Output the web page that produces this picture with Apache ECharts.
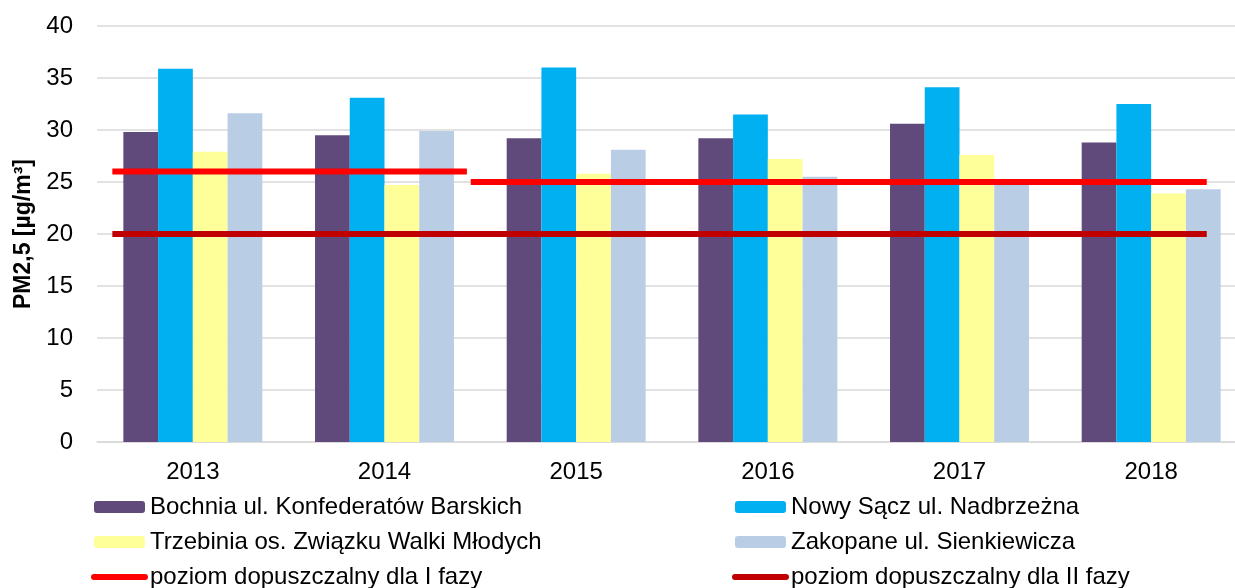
<!DOCTYPE html>
<html>
<head>
<meta charset="utf-8">
<script src="https://cdn.jsdelivr.net/npm/echarts@6/dist/echarts.min.js"></script>
<style>
  html, body { margin: 0; padding: 0; background: #fff; overflow: hidden; }
  #chart { width: 1235px; height: 588px; }
</style>
</head>
<body>
<div id="chart"></div>
<script>
// lata pomiarowe
var years = ['2013', '2014', '2015', '2016', '2017', '2018'];

// stezenia PM2,5 [ug/m3]
var bochnia = [29.8, 29.5, 29.2, 29.2, 30.6, 28.8];
var nowySacz = [35.9, 33.1, 36.0, 31.5, 34.1, 32.5];
var trzebinia = [27.9, 24.7, 25.8, 27.2, 27.6, 23.9];
var zakopane = [31.6, 29.9, 28.1, 25.5, 24.8, 24.3];

// poziomy dopuszczalne: [od, do (w jednostkach kategorii), wartosc]
var limitI = [[0.08, 1.93, 26], [1.95, 5.79, 25]];
var limitII = [[0.08, 5.79, 20]];

var yTicks = [0, 5, 10, 15, 20, 25, 30, 35, 40];

var names = {
  boch: 'Bochnia ul. Konfederatów Barskich',
  nowy: 'Nowy Sącz ul. Nadbrzeżna',
  trze: 'Trzebinia os. Związku Walki Młodych',
  zako: 'Zakopane ul. Sienkiewicza',
  l1: 'poziom dopuszczalny dla I fazy',
  l2: 'poziom dopuszczalny dla II fazy'
};

var font = 'Liberation Sans, Arial, sans-serif';

function bar(name, data, color) {
  return {
    name: name,
    type: 'bar',
    data: data,
    barGap: '0%',
    barCategoryGap: '27.5%',
    itemStyle: { color: color },
    emphasis: { disabled: true }
  };
}

function seg(name, s, color) {
  return {
    name: name,
    type: 'line',
    xAxisIndex: 1,
    data: [[s[0], s[2]], [s[1], s[2]]],
    symbol: 'none',
    lineStyle: { color: color, width: 6 },
    itemStyle: { color: color },
    z: 5,
    silent: true
  };
}

var series = [
  bar(names.boch, bochnia, '#604A7B'),
  bar(names.nowy, nowySacz, '#00B0F0'),
  bar(names.trze, trzebinia, '#FFFF99'),
  bar(names.zako, zakopane, '#B9CDE5')
];
for (var i = 0; i < limitI.length; i++) series.push(seg(names.l1, limitI[i], '#FF0000'));
for (var j = 0; j < limitII.length; j++) series.push(seg(names.l2, limitII[j], '#C00000'));

// ikona linii w legendzie bez znacznika
function lineItem(name) {
  return { name: name, itemStyle: { opacity: 0 }, lineStyle: { width: 6, cap: 'round' } };
}

var legendCommon = {
  orient: 'vertical',
  top: 495,
  height: 120,
  padding: 0,
  itemWidth: 51,
  itemHeight: 12,
  itemGap: 11,
  selectedMode: false,
  textStyle: { fontFamily: font, fontSize: 24, color: '#000', lineHeight: 24 }
};

var chart = echarts.init(document.getElementById('chart'));
chart.setOption({
  animation: false,
  backgroundColor: '#fff',
  grid: { left: 97, width: 1150, top: 26, bottom: 146, containLabel: false, outerBoundsMode: 'none' },
  legend: [
    Object.assign({ left: 91, data: [names.boch, names.trze, lineItem(names.l1)] }, legendCommon),
    Object.assign({ left: 732, data: [names.nowy, names.zako, lineItem(names.l2)] }, legendCommon)
  ],
  xAxis: [{
    type: 'category',
    data: years,
    axisLine: { lineStyle: { color: '#D9D9D9', width: 1.5 } },
    axisTick: { show: false },
    axisLabel: { fontFamily: font, fontSize: 24, color: '#000', margin: 18 }
  }, {
    type: 'value',
    min: 0,
    max: years.length,
    show: false
  }],
  yAxis: {
    type: 'value',
    min: yTicks[0],
    max: yTicks[yTicks.length - 1],
    interval: 5,
    name: 'PM2,5 [µg/m³]',
    nameLocation: 'middle',
    nameRotate: 90,
    nameGap: 62,
    nameTextStyle: { fontFamily: font, fontSize: 23, fontWeight: 'bold', color: '#000' },
    axisLine: { show: false },
    axisTick: { show: false },
    splitLine: { lineStyle: { color: '#D9D9D9', width: 1.5 } },
    axisLabel: { fontFamily: font, fontSize: 24, color: '#000', margin: 24 }
  },
  series: series
});
</script>
</body>
</html>
